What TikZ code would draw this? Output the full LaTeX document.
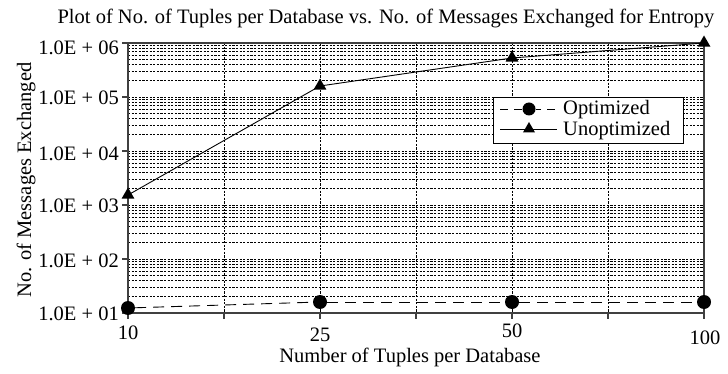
\documentclass[tikz,border=0pt]{standalone}
\usepackage{fontspec}
\setmainfont{Liberation Serif}
\usetikzlibrary{shapes.geometric}
\begin{document}
\begin{tikzpicture}[x=1pt,y=-1pt,
  lab/.style={font=\fontsize{20.5}{24}\selectfont, inner sep=0pt},
  grid line/.style={line width=0.8pt, black, dash pattern=on 2.2pt off 1.4pt},
  frame/.style={line width=1.4pt, black!75},
  tri/.style={regular polygon, regular polygon sides=3, fill=black, inner sep=0pt, minimum size=15pt},
  dot/.style={circle, fill=black, inner sep=0pt, minimum size=14pt},
  opt line/.style={line width=0.9pt, dash pattern=on 11pt off 7pt},
  unopt line/.style={line width=0.9pt}]
\useasboundingbox (0,0) rectangle (728,374);
% grid
\foreach \x in {224,320,416,512,608} \draw[grid line] (\x,43) -- (\x,313);
\foreach \d in {0,...,4} {
  \foreach \k in {1,...,9} {
    \pgfmathsetmacro\yy{313-54*(\d+ln(\k)/2.302585)}
    \draw[grid line] (128,\yy) -- (704,\yy);
  }
}
% frame and ticks
\draw[frame] (128,43) rectangle (704,313);
\foreach \y in {43,97,151,205,259,313} \draw[frame] (122,\y) -- (128,\y);
\foreach \x in {128,224,...,704} \draw[frame] (\x,313) -- (\x,319);
% y tick labels
\node[lab, anchor=base east] (y6) at (119,55) {1.0E + 06};
\node[lab, anchor=base east] (y5) at (119,105) {1.0E + 05};
\node[lab, anchor=base east] (y4) at (119,161) {1.0E + 04};
\node[lab, anchor=base east] (y3) at (119,213) {1.0E + 03};
\node[lab, anchor=base east] (y2) at (119,267) {1.0E + 02};
\node[lab, anchor=base east] (y1) at (119,320) {1.0E + 01};
% x tick labels
\node[lab, anchor=base] (x1) at (128,339) {10};
\node[lab, anchor=base] (x2) at (320,341) {25};
\node[lab, anchor=base] (x3) at (512,337) {50};
\node[lab, anchor=base] (x4) at (705,344) {100};
% titles
\node[lab, anchor=base] (title) at (386,24) {Plot of No. of Tuples per Database vs. No. of Messages Exchanged for Entropy};
\node[lab, anchor=base] (xlabel) at (410,362) {Number of Tuples per Database};
\node[lab, anchor=base, rotate=90] (ylabel) at (31,180) {No. of Messages Exchanged};
% optimized series
\node[dot] (o1) at (128,308) {};
\node[dot] (o2) at (320,302) {};
\node[dot] (o3) at (512,302) {};
\node[dot] (o4) at (704,302) {};
\draw[opt line] (o1) -- (o2);
\draw[opt line] (o2) -- (o3);
\draw[opt line] (o3) -- (o4);
% unoptimized series
\node[tri] (u1) at (128,195) {};
\node[tri] (u2) at (320,86) {};
\node[tri] (u3) at (512,58) {};
\node[tri] (u4) at (704,43) {};
\draw[unopt line] (u1.center) -- (u2.center);
\draw[unopt line] (u2.center) -- (u3.center);
\draw[unopt line] (u3.center) -- (u4.center);
% legend
\node[draw=black, line width=0.9pt, fill=white, minimum width=190pt, minimum height=46pt, inner sep=0pt, anchor=north west] (legend) at (493,97) {};
\coordinate (la1) at (500,109);
\coordinate (lb1) at (555,109);
\node[dot, minimum size=13pt] (lo) at (529,109) {};
\draw[opt line, dash pattern=on 8pt off 6pt] (la1) -- (lo);
\draw[opt line, dash pattern=on 8pt off 6pt] (lb1) -- (lo);
\coordinate (la2) at (500,129);
\coordinate (lb2) at (557,129);
\node[tri, minimum size=14pt] (lu) at (529,129) {};
\draw[unopt line] (la2) -- (lb2);
\node[lab, anchor=base west] (lt1) at (563,115) {Optimized};
\node[lab, anchor=base west] (lt2) at (563,136) {Unoptimized};
\end{tikzpicture}
\end{document}
